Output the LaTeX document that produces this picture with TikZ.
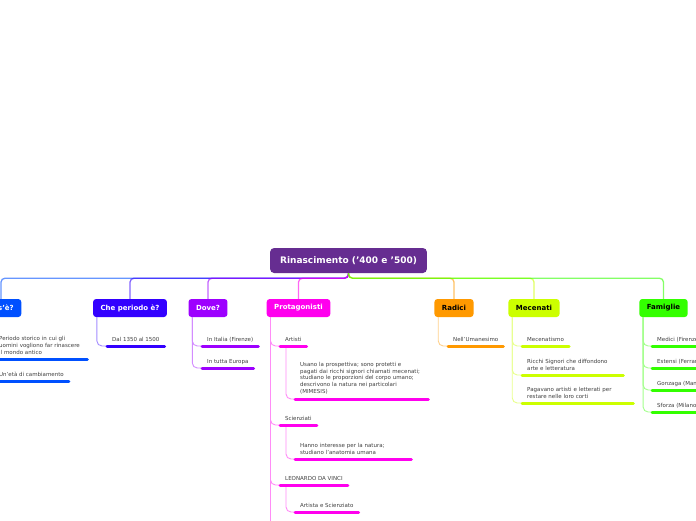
\documentclass[tikz,border=0pt]{standalone}
\usepackage{fontspec}
\setmainfont{DejaVu Sans}
\usepackage{xcolor}
\usepackage{tikz}
\definecolor{rootc}{HTML}{662D91}
\definecolor{cosec}{HTML}{0050FF}
\definecolor{chec}{HTML}{3300FF}
\definecolor{dovec}{HTML}{9D00FF}
\definecolor{protc}{HTML}{FF00EE}
\definecolor{radc}{HTML}{FF9900}
\definecolor{mecc}{HTML}{CCFF00}
\definecolor{famc}{HTML}{33FF00}
\begin{document}
\begin{tikzpicture}[x=1pt,y=-1pt,
  rootbox/.style={fill=rootc,text=white,font=\fontsize{9}{11}\selectfont\bfseries,rounded corners=4pt,minimum height=25pt,inner xsep=10pt},
  topic/.style={fill=#1,text=white,font=\fontsize{7}{8}\selectfont\bfseries,rounded corners=3pt,minimum height=18pt,inner xsep=7.5pt},
  item/.style={anchor=south west,align=left,font=\fontsize{5.5}{6.8}\selectfont,text=black!75,inner xsep=5pt,inner ysep=3pt,text depth=1.5pt},
  wide/.style={item,text width=#1,text depth=,inner ysep=4.5pt},
  uline/.style={draw=#1,line width=3pt,line cap=round},
  branch/.style={draw=#1,line width=1.3pt,opacity=0.6,rounded corners=4pt},
  twig/.style={draw=#1!45,line width=0.9pt,rounded corners=5pt}]
  \useasboundingbox[fill=white] (0,0) rectangle (696,520);

  \node[rootbox] (rin) at (348.5,260.5) {Rinascimento ('400 e '500)};

  \node[topic=cosec] (cose) at (1,308) {Cos'è?};
  \node[topic=chec] (periodo) at (130,308) {Che periodo è?};
  \node[topic=dovec] (dove) at (208,308) {Dove?};
  \node[topic=protc] (prot) at (298.5,308) {Protagonisti};
  \node[topic=radc,text=black] (radici) at (454,308) {Radici};
  \node[topic=mecc,text=black] (mecenati) at (534,308) {Mecenati};
  \node[topic=famc,text=black] (famiglie) at (663.5,308) {Famiglie};

  \foreach \t/\c in {cose/cosec,periodo/chec,dove/dovec,prot/protc,radici/radc,mecenati/mecc,famiglie/famc}
    \draw[branch=\c] (rin.south) -- ++(0,5) -| (\t.north);

  % Cos'e?
  \node[wide=83pt] (cose1) at (-6,359) {Periodo storico in cui gli\\uomini vogliono far rinascere\\il mondo antico};
  \node[item] (cose2) at (-6,381) {Un'età di cambiamento};
  % Che periodo e?
  \node[item] (periodo1) at (107,346) {Dal 1350 al 1500};
  % Dove?
  \node[item] (dove1) at (202,346) {In Italia (Firenze)};
  \node[item] (dove2) at (202,368) {In tutta Europa};
  % Protagonisti
  \node[item] (art) at (280,346) {Artisti};
  \node[wide=123pt] (art1) at (295,399) {Usano la prospettiva; sono protetti e\\pagati dai ricchi signori chiamati mecenati;\\studiano le proporzioni del corpo umano;\\descrivono la natura nei particolari\\(MIMESIS)};
  \node[item] (sci) at (280,425) {Scienziati};
  \node[wide=106pt] (sci1) at (295,459) {Hanno interesse per la natura;\\studiano l'anatomia umana};
  \node[item] (leo) at (280,485) {LEONARDO DA VINCI};
  \node[item] (leo1) at (295,512) {Artista e Scienziato};
  \coordinate (protend) at (271,530);
  % Radici
  \node[item] (radici1) at (448,346) {Nell'Umanesimo};
  % Mecenati
  \node[item] (mec1) at (522,346) {Mecenatismo};
  \node[wide=91pt] (mec2) at (522,375) {Ricchi Signori che diffondono\\arte e letteratura};
  \node[wide=101pt] (mec3) at (522,403) {Pagavano artisti e letterati per\\restare nelle loro corti};
  % Famiglie
  \node[item] (fam1) at (652,346) {Medici (Firenze)};
  \node[item] (fam2) at (652,368) {Estensi (Ferrara)};
  \node[item] (fam3) at (652,390) {Gonzaga (Mantova)};
  \node[item] (fam4) at (652,412) {Sforza (Milano)};

  \foreach \p/\n/\c in {cose/cose1/cosec,cose/cose2/cosec,periodo/periodo1/chec,dove/dove1/dovec,dove/dove2/dovec,
      prot/art/protc,prot/sci/protc,prot/leo/protc,radici/radici1/radc,
      mecenati/mec1/mecc,mecenati/mec2/mecc,mecenati/mec3/mecc,
      famiglie/fam1/famc,famiglie/fam2/famc,famiglie/fam3/famc,famiglie/fam4/famc}
    \draw[twig=\c] ([xshift=4pt]\p.south west) |- (\n.south west);
  \draw[twig=protc] ([xshift=4pt]prot.south west) |- (protend);
  \foreach \p/\n in {art/art1,sci/sci1,leo/leo1}
    \draw[twig=protc] ([xshift=6pt]\p.south west) |- (\n.south west);

  \foreach \n/\c in {cose1/cosec,cose2/cosec,periodo1/chec,dove1/dovec,dove2/dovec,
      art/protc,art1/protc,sci/protc,sci1/protc,leo/protc,leo1/protc,radici1/radc,
      mec1/mecc,mec2/mecc,mec3/mecc,fam1/famc,fam2/famc,fam3/famc,fam4/famc}
    \draw[uline=\c] (\n.south west) -- (\n.south east);
\end{tikzpicture}
\end{document}
